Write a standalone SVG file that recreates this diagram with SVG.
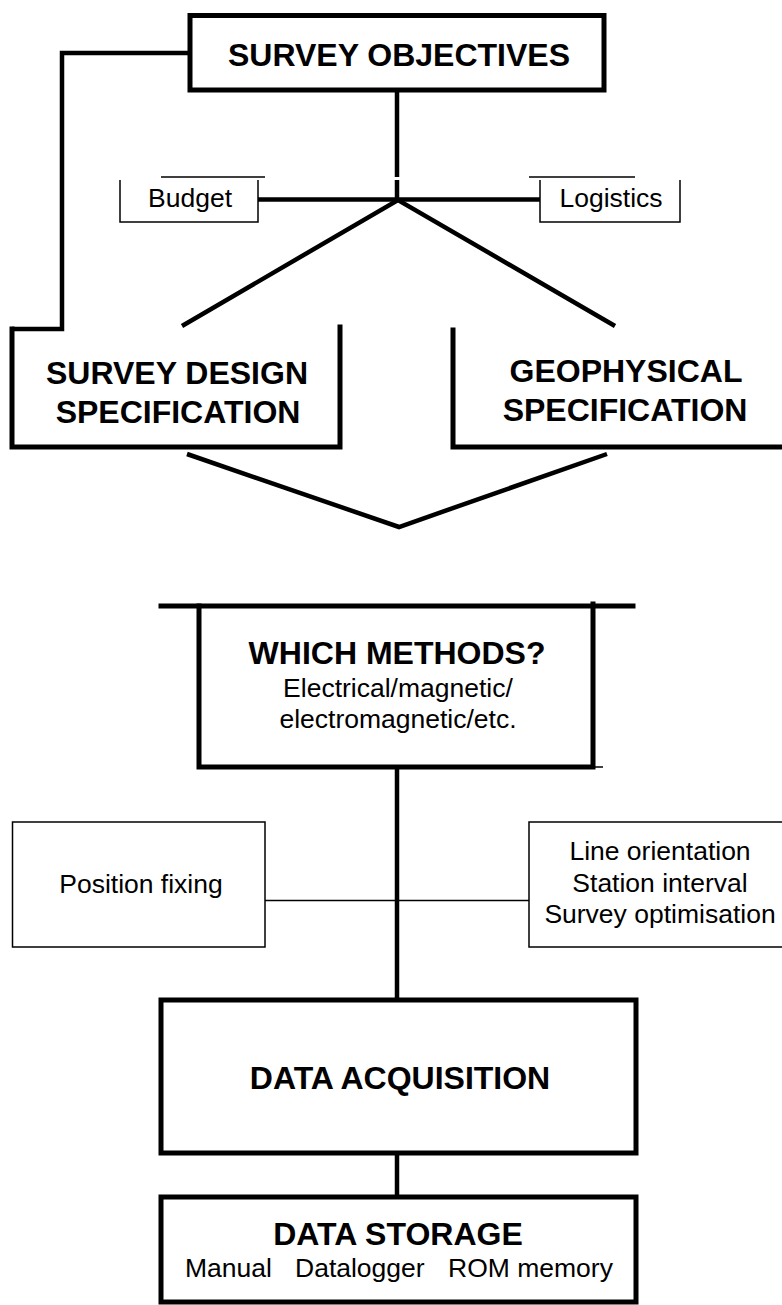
<svg xmlns="http://www.w3.org/2000/svg" width="782" height="1305" viewBox="0 0 782 1305">
<style>
.thick{fill:none;stroke:#000;stroke-width:5;stroke-linejoin:miter;stroke-linecap:square}
.conn{fill:none;stroke:#000;stroke-width:4.5;stroke-linejoin:miter}
.thin{fill:none;stroke:#000;stroke-width:1.5}
.bold{font-family:"Liberation Sans",Arial,sans-serif;font-weight:bold;font-size:32px;text-anchor:middle;fill:#000}
.reg{font-family:"Liberation Sans",Arial,sans-serif;font-size:26.5px;text-anchor:middle;fill:#000}
</style>
<rect width="782" height="1305" fill="#fff"/>
<g id="connectors">
<path class="conn" d="M190,53 H62 V329 H12"/>
<path class="conn" d="M397,90 V177 M397,180 V200"/>
<path class="conn" d="M258,199.5 H540"/>
<path class="conn" d="M182,326 L398,200 L615,326"/>
<path class="conn" d="M187,454 L399,527 L607,454"/>
<path class="conn" d="M397,767 V1000"/>
<path class="thin" d="M265,900.5 H529"/>
<path class="conn" d="M397,1153 V1197"/>
</g>
<g id="survey-objectives">
<rect class="thick" x="190" y="15.5" width="414" height="74.5"/>
<text class="bold" x="399" y="66">SURVEY OBJECTIVES</text>
</g>
<g id="budget">
<path class="thin" d="M161,177 H265 M120,180 V222 H258 V180"/>
<text class="reg" x="190" y="207">Budget</text>
</g>
<g id="logistics">
<path class="thin" d="M529,177 H635 M540,180 V222 H680 V180"/>
<text class="reg" x="611" y="207">Logistics</text>
</g>
<g id="survey-design">
<path class="thick" d="M12,329 V447 H340 V327"/>
<text class="bold" x="177" y="384">SURVEY DESIGN</text>
<text class="bold" x="178" y="423">SPECIFICATION</text>
</g>
<g id="geophysical">
<path class="thick" d="M453,330 V447 H790"/>
<text class="bold" x="626" y="382">GEOPHYSICAL</text>
<text class="bold" x="625" y="421">SPECIFICATION</text>
</g>
<g id="which-methods">
<path class="thick" d="M161,606 H633"/>
<path class="thick" d="M199,606 V767 H593 V604"/>
<path class="thin" d="M593,767 H603"/>
<text class="bold" x="397" y="664">WHICH METHODS?</text>
<text class="reg" x="398" y="697">Electrical/magnetic/</text>
<text class="reg" x="398" y="728">electromagnetic/etc.</text>
</g>
<g id="position-fixing">
<rect class="thin" x="12.5" y="822" width="252.5" height="125"/>
<text class="reg" x="141" y="893">Position fixing</text>
</g>
<g id="line-orientation">
<rect class="thin" x="529" y="822" width="270" height="125"/>
<text class="reg" x="660" y="860">Line orientation</text>
<text class="reg" x="660" y="892">Station interval</text>
<text class="reg" x="660" y="923">Survey optimisation</text>
</g>
<g id="data-acquisition">
<rect class="thick" x="161" y="1000" width="475" height="153"/>
<text class="bold" x="400" y="1089">DATA ACQUISITION</text>
</g>
<g id="data-storage">
<rect class="thick" x="161" y="1197" width="475" height="105"/>
<text class="bold" x="398" y="1245">DATA STORAGE</text>
<text class="reg" y="1277" style="text-anchor:start"><tspan x="185">Manual</tspan><tspan x="295">Datalogger</tspan><tspan x="448">ROM memory</tspan></text>
</g>
</svg>
